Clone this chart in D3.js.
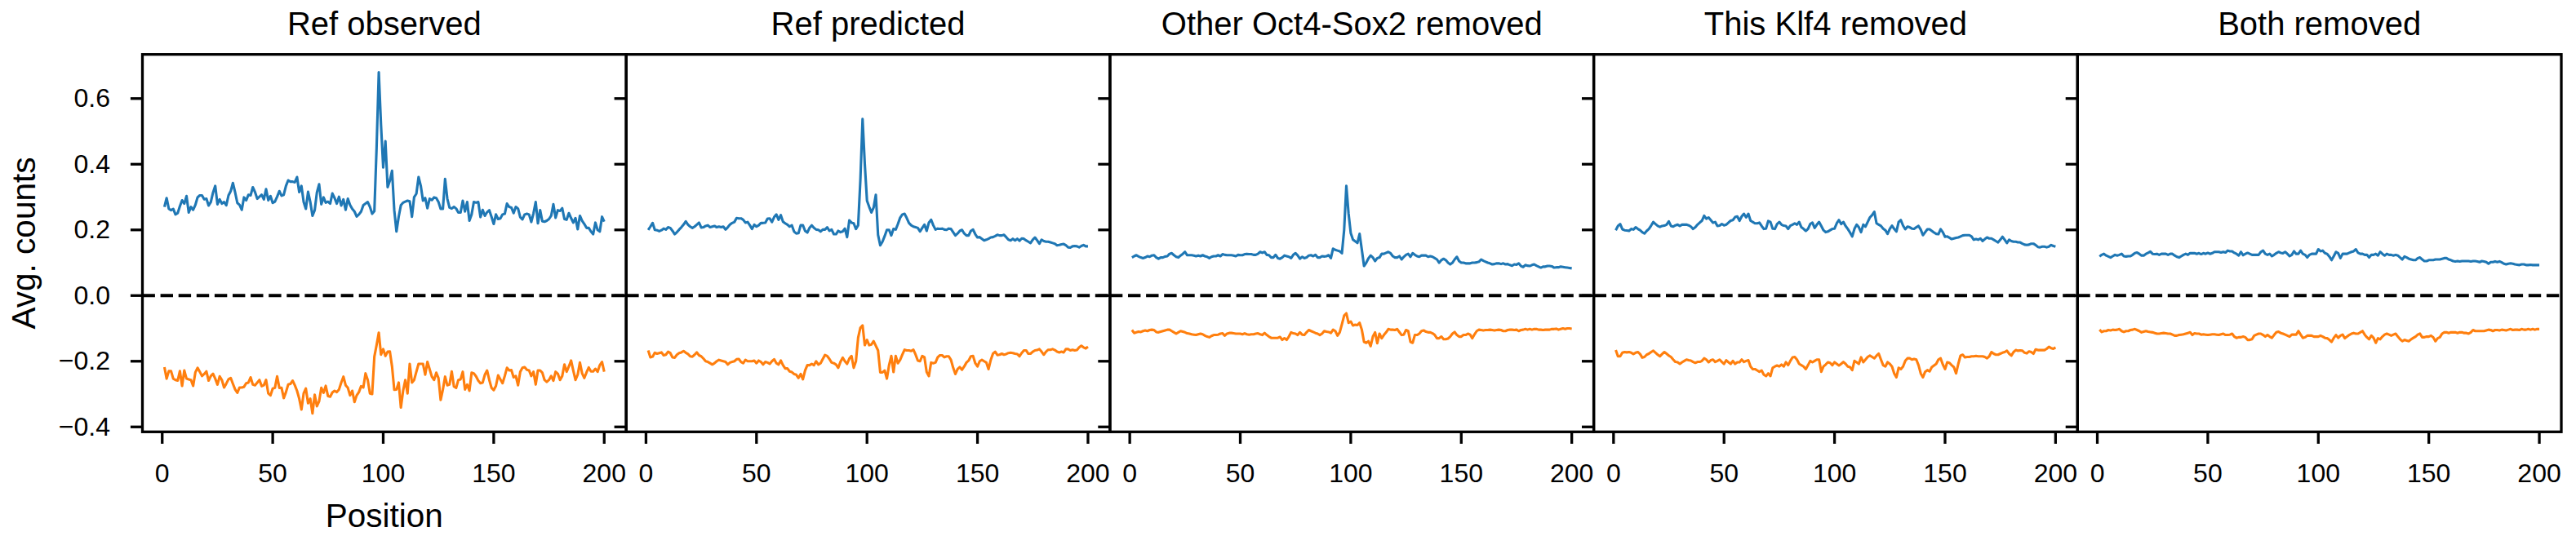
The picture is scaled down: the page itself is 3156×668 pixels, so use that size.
<!DOCTYPE html>
<html><head><meta charset="utf-8">
<script src="https://cdn.jsdelivr.net/npm/d3@7"></script>
<style>
body{margin:0;background:#fff}
svg{display:block;background:#fff}
text{font-family:"Liberation Sans",Arial,Helvetica,sans-serif;fill:#000}
</style>
</head><body>
<svg id="chart" width="3156" height="668"></svg>
<script>
// ---------------- data ----------------
const panelTitles = ["Ref observed","Ref predicted","Other Oct4-Sox2 removed","This Klf4 removed","Both removed"];
const xTickValues = [0,50,100,150,200];
const yTickValues = [-0.4,-0.2,0.0,0.2,0.4,0.6];
const positions = d3.range(1,201);

const refObservedPlus = [
.270,.297,.264,.260,.264,.247,.251,.272,.290,.280,
.303,.253,.270,.261,.276,.299,.305,.305,.293,.295,
.274,.285,.314,.334,.278,.293,.280,.285,.275,.305,
.318,.343,.314,.282,.276,.261,.299,.290,.307,.305,
.330,.315,.295,.301,.307,.293,.324,.290,.303,.282,
.286,.301,.318,.304,.307,.334,.351,.347,.347,.345,
.361,.315,.334,.285,.264,.316,.285,.243,.260,.314,
.339,.278,.299,.283,.286,.280,.311,.297,.280,.301,
.274,.293,.261,.295,.276,.264,.256,.241,.247,.256,
.275,.280,.285,.270,.249,.257,.450,.680,.520,.390,
.470,.330,.350,.380,.260,.195,.240,.275,.283,.286,
.289,.287,.240,.300,.310,.361,.334,.289,.297,.266,
.295,.291,.299,.297,.285,.264,.264,.355,.295,.268,
.265,.270,.265,.253,.253,.289,.256,.285,.228,.247,
.285,.283,.285,.239,.261,.243,.254,.260,.240,.218,
.247,.233,.235,.247,.249,.280,.270,.268,.251,.270,
.265,.239,.232,.247,.249,.247,.224,.251,.285,.220,
.260,.226,.225,.228,.233,.243,.278,.237,.260,.258,
.266,.233,.231,.251,.236,.222,.236,.202,.243,.228,
.218,.206,.206,.195,.187,.222,.200,.195,.240,.225];

const refObservedMinus = [
-.218,-.253,-.230,-.230,-.253,-.257,-.259,-.230,-.275,-.228,
-.253,-.255,-.257,-.275,-.234,-.220,-.232,-.245,-.239,-.231,
-.259,-.245,-.238,-.253,-.271,-.246,-.257,-.280,-.268,-.255,
-.251,-.269,-.286,-.296,-.280,-.280,-.278,-.267,-.265,
-.249,-.271,-.273,-.265,-.257,-.276,-.273,-.257,-.298,-.304,
-.283,-.281,-.246,-.281,-.281,-.312,-.294,-.271,-.269,-.259,
-.273,-.290,-.314,-.347,-.298,-.283,-.328,-.314,-.359,-.302,
-.337,-.322,-.281,-.296,-.275,-.306,-.308,-.295,-.290,-.294,
-.286,-.265,-.247,-.273,-.281,-.304,-.290,-.324,-.304,-.294,
-.276,-.280,-.237,-.257,-.298,-.300,-.186,-.151,-.113,-.180,
-.163,-.184,-.171,-.170,-.216,-.287,-.286,-.265,-.341,-.290,
-.257,-.298,-.208,-.265,-.257,-.232,-.208,-.208,-.208,-.241,
-.202,-.224,-.247,-.257,-.235,-.251,-.318,-.286,-.247,-.273,
-.271,-.231,-.277,-.281,-.257,-.255,-.232,-.286,-.271,-.290,
-.235,-.237,-.246,-.259,-.267,-.265,-.241,-.228,-.257,
-.281,-.288,-.275,-.243,-.255,-.267,-.245,-.220,-.228,-.227,
-.249,-.245,-.273,-.232,-.220,-.218,-.226,-.228,-.245,-.232,
-.271,-.228,-.228,-.235,-.257,-.263,-.257,-.245,-.259,-.232,
-.238,-.257,-.245,-.210,-.232,-.216,-.198,-.228,-.257,-.241,
-.204,-.237,-.251,-.234,-.219,-.231,-.231,-.223,-.232,-.212,
-.202,-.232];

const refPredictedPlus = [
.200,.210,.221,.200,.199,.196,.199,.204,.201,.208,
.206,.197,.187,.193,.201,.208,.216,.226,.216,.210,
.206,.210,.216,.222,.207,.208,.212,.214,.208,.210,
.212,.208,.210,.208,.210,.201,.208,.216,.221,
.224,.236,.235,.235,.231,.222,.224,.214,.203,.216,
.210,.214,.221,.221,.222,.234,.235,.224,.239,.247,
.231,.245,.225,.220,.216,.210,.214,.195,.189,.190,
.214,.214,.197,.192,.206,.214,.206,.201,.200,.195,
.201,.201,.208,.197,.201,.187,.187,.197,.193,.195,
.204,.178,.229,.222,.220,.203,.214,.351,.538,.401,
.289,.270,.253,.268,.307,.185,.153,.164,.181,.200,
.200,.183,.203,.201,.218,.237,.247,.249,.236,.221,
.214,.210,.208,.206,.195,.206,.216,.197,.222,.231,
.214,.201,.204,.203,.204,.201,.200,.204,.203,.193,
.183,.189,.197,.200,.189,.183,.183,.197,.201,.187,
.177,.178,.173,.168,.170,.173,.177,.178,.181,.185,
.183,.183,.185,.178,.170,.168,.173,.168,.173,.167,
.174,.173,.168,.164,.160,.170,.177,.168,.158,
.170,.166,.164,.164,.162,.160,.158,.153,.154,.156,
.157,.153,.147,.146,.150,.151,.150,.147,.151,.154,
.150,.150];

const refPredictedMinus = [
-.167,-.188,-.186,-.174,-.177,-.175,-.173,-.182,-.180,-.171,
-.175,-.188,-.189,-.180,-.175,-.173,-.169,-.174,-.178,-.185,
-.186,-.180,-.173,-.182,-.185,-.192,-.200,-.202,-.206,-.210,
-.206,-.200,-.196,-.198,-.200,-.202,-.210,-.204,-.202,-.200,
-.194,-.193,-.202,-.206,-.196,-.200,-.200,-.200,-.198,
-.206,-.198,-.202,-.210,-.202,-.204,-.208,-.200,-.194,-.206,
-.210,-.198,-.212,-.222,-.222,-.231,-.233,-.239,-.241,-.251,
-.239,-.255,-.228,-.212,-.212,-.208,-.212,-.200,-.210,-.206,
-.193,-.181,-.184,-.193,-.204,-.206,-.210,-.220,-.202,-.189,
-.200,-.208,-.192,-.184,-.220,-.200,-.128,-.098,-.091,-.151,
-.135,-.151,-.149,-.139,-.153,-.167,-.234,-.234,-.228,-.253,
-.212,-.184,-.233,-.184,-.206,-.196,-.180,-.165,-.167,-.167,
-.169,-.165,-.180,-.198,-.200,-.184,-.188,-.233,-.245,-.204,
-.206,-.204,-.188,-.182,-.182,-.188,-.185,-.185,-.196,-.220,
-.239,-.224,-.218,-.226,-.216,-.204,-.198,-.185,-.184,-.206,
-.216,-.200,-.196,-.200,-.204,-.224,-.196,-.177,-.171,-.181,
-.180,-.177,-.180,-.178,-.175,-.174,-.175,-.177,-.178,
-.185,-.175,-.167,-.167,-.177,-.177,-.171,-.167,-.166,-.163,
-.171,-.180,-.171,-.165,-.165,-.163,-.166,-.171,-.173,-.171,
-.173,-.163,-.163,-.167,-.165,-.167,-.166,-.158,-.153,-.158,
-.161,-.156];

const otherRemovedPlus = [
.116,.120,.123,.119,.116,.114,.116,.120,.118,.122,
.123,.116,.112,.116,.116,.119,.120,.127,.129,.123,
.118,.116,.122,.127,.133,.123,.123,.123,.122,.120,
.122,.120,.123,.120,.118,.114,.118,.120,.120,
.123,.120,.126,.124,.123,.123,.123,.122,.120,.124,
.123,.123,.126,.127,.126,.126,.124,.124,.127,.133,
.130,.133,.124,.123,.116,.116,.124,.114,.112,.116,
.122,.120,.118,.114,.124,.129,.122,.112,.118,.114,
.116,.122,.123,.120,.124,.116,.116,.120,.119,.120,
.123,.114,.143,.139,.137,.135,.129,.200,.334,.250,
.190,.170,.165,.160,.188,.140,.090,.100,.113,.122,
.116,.105,.114,.116,.127,.127,.130,.133,.129,.120,
.116,.116,.120,.110,.118,.124,.127,.118,.129,.124,
.120,.118,.122,.122,.122,.118,.120,.118,.114,.110,
.100,.108,.112,.108,.100,.095,.100,.110,.118,.105,
.100,.100,.098,.098,.098,.100,.100,.101,.103,.110,
.106,.103,.100,.098,.095,.096,.098,.098,.096,
.098,.095,.096,.093,.091,.095,.094,.098,.090,.087,
.093,.091,.090,.093,.095,.091,.088,.085,.088,.088,
.090,.090,.089,.085,.086,.086,.088,.087,.086,.085,
.084,.083];

const otherRemovedMinus = [
-.105,-.114,-.112,-.110,-.111,-.108,-.106,-.108,-.105,-.104,
-.105,-.111,-.112,-.110,-.108,-.106,-.104,-.104,-.108,-.112,
-.116,-.112,-.108,-.110,-.112,-.115,-.116,-.118,-.119,-.120,
-.118,-.116,-.118,-.122,-.125,-.127,-.123,-.120,-.120,
-.119,-.116,-.115,-.122,-.116,-.114,-.114,-.115,-.116,-.116,
-.116,-.118,-.115,-.118,-.119,-.118,-.118,-.116,-.115,-.118,
-.120,-.114,-.120,-.125,-.129,-.129,-.129,-.129,-.126,-.135,
-.130,-.135,-.125,-.112,-.115,-.116,-.120,-.112,-.119,-.120,
-.112,-.105,-.108,-.111,-.114,-.116,-.120,-.116,-.108,-.110,
-.111,-.114,-.104,-.108,-.122,-.112,-.087,-.061,-.054,-.083,
-.079,-.091,-.089,-.090,-.083,-.104,-.141,-.144,-.139,-.154,
-.125,-.112,-.145,-.116,-.130,-.120,-.112,-.102,-.104,-.104,
-.105,-.102,-.111,-.120,-.119,-.105,-.108,-.141,-.144,-.120,
-.120,-.116,-.108,-.106,-.110,-.112,-.112,-.115,-.120,-.130,
-.130,-.125,-.133,-.133,-.131,-.125,-.116,-.111,-.120,-.125,
-.125,-.120,-.120,-.116,-.119,-.130,-.118,-.108,-.104,-.105,
-.106,-.105,-.105,-.104,-.105,-.106,-.105,-.104,-.105,-.108,
-.108,-.105,-.104,-.104,-.105,-.104,-.108,-.105,-.104,-.102,
-.104,-.102,-.104,-.102,-.102,-.104,-.104,-.105,-.104,-.104,
-.104,-.102,-.102,-.101,-.104,-.102,-.100,-.102,-.100,-.100,
-.101];

const klf4RemovedPlus = [
.199,.212,.218,.202,.199,.198,.197,.203,.201,.208,
.203,.199,.193,.189,.197,.203,.213,.224,.218,.212,
.209,.212,.213,.216,.226,.212,.210,.214,.216,.212,
.216,.216,.216,.214,.210,.203,.208,.216,.222,
.228,.243,.234,.238,.230,.222,.224,.212,.213,.218,
.214,.216,.222,.228,.230,.239,.241,.228,.241,.249,
.238,.249,.228,.224,.220,.220,.222,.212,.203,.204,
.227,.224,.204,.203,.218,.224,.216,.213,.212,.203,
.213,.216,.220,.216,.224,.208,.203,.197,.203,.218,
.222,.206,.216,.224,.212,.199,.193,.195,.199,.203,
.204,.220,.230,.218,.224,.212,.203,.192,.180,.203,
.216,.208,.193,.216,.210,.224,.238,.245,.255,.220,
.216,.212,.204,.199,.188,.203,.213,.203,.195,.224,
.230,.213,.202,.210,.208,.204,.203,.208,.212,.201,
.184,.193,.202,.202,.197,.192,.188,.187,.202,.193,
.179,.180,.176,.172,.174,.176,.177,.180,.183,.184,
.184,.184,.180,.170,.172,.170,.174,.166,.172,
.177,.174,.174,.170,.166,.162,.170,.179,.170,.160,
.170,.166,.164,.164,.162,.162,.158,.155,.154,.155,
.158,.158,.154,.148,.147,.149,.149,.147,.149,.154,
.151,.149];

const klf4RemovedMinus = [
-.166,-.185,-.185,-.174,-.172,-.173,-.172,-.174,-.178,-.174,
-.172,-.178,-.189,-.187,-.180,-.177,-.172,-.168,-.174,-.180,
-.185,-.178,-.172,-.177,-.183,-.187,-.195,-.202,-.203,-.208,
-.203,-.199,-.195,-.197,-.198,-.202,-.205,-.202,-.202,-.199,
-.191,-.195,-.203,-.197,-.195,-.202,-.199,-.195,-.202,
-.208,-.197,-.203,-.208,-.199,-.208,-.203,-.203,-.195,-.202,
-.199,-.197,-.216,-.224,-.224,-.228,-.232,-.228,-.241,-.245,
-.237,-.245,-.220,-.216,-.213,-.216,-.210,-.216,-.203,-.212,
-.199,-.188,-.187,-.195,-.208,-.212,-.216,-.224,-.212,-.199,
-.203,-.199,-.195,-.195,-.232,-.216,-.210,-.203,-.205,-.212,
-.203,-.208,-.213,-.208,-.202,-.208,-.216,-.218,-.227,-.199,
-.203,-.208,-.188,-.203,-.195,-.187,-.183,-.187,-.191,-.183,
-.177,-.195,-.212,-.216,-.203,-.208,-.216,-.237,-.249,-.220,
-.224,-.216,-.199,-.191,-.191,-.195,-.193,-.195,-.212,-.237,
-.249,-.232,-.227,-.231,-.218,-.213,-.208,-.195,-.191,-.210,
-.224,-.203,-.205,-.212,-.218,-.237,-.208,-.183,-.180,-.188,
-.187,-.187,-.185,-.185,-.184,-.185,-.185,-.185,-.187,
-.191,-.185,-.172,-.177,-.180,-.180,-.177,-.174,-.172,-.168,
-.177,-.183,-.172,-.166,-.168,-.167,-.168,-.174,-.176,-.170,
-.172,-.177,-.164,-.166,-.166,-.166,-.166,-.162,-.156,-.160,
-.162,-.158];

const bothRemovedPlus = [
.119,.124,.127,.122,.119,.116,.120,.124,.122,.124,
.127,.120,.119,.120,.120,.124,.129,.131,.127,.122,
.122,.127,.130,.134,.127,.126,.127,.124,.127,.127,
.127,
.124,.127,.127,.122,.118,.116,.120,.124,.127,.124,
.129,.129,.129,.127,.129,.126,.129,.127,.130,.127,
.129,.133,.133,.133,.131,.133,.131,.137,.135,.135,
.130,.127,.122,.133,.123,.127,.130,.127,.124,.124,
.124,
.124,.133,.137,.127,.124,.127,.120,.124,.129,.133,
.130,.129,.133,.127,.120,.124,.135,.127,.127,.137,
.127,.124,.116,.124,.127,.127,.127,.141,.135,.137,
.129,.127,.119,.108,.120,.133,.129,.114,.127,.127,
.127,
.130,.133,.135,.141,.130,.127,.127,.124,.124,.116,
.124,.124,.127,.122,.133,.127,.122,.127,.124,.124,
.122,.124,.122,.116,.110,.119,.116,.112,.110,.108,
.108,.114,.116,.110,.105,.105,.108,.108,.108,.110,
.110,
.110,.112,.114,.114,.110,.108,.105,.104,.105,.104,
.105,.105,.105,.105,.104,.105,.105,.104,.102,.105,
.104,.102,.097,.102,.102,.104,.102,.104,.101,.097,
.095,.097,.098,.097,.095,.094,.093,.095,.095,.093,.093,
.094,.093,.093,.093,.093];

const bothRemovedMinus = [
-.104,-.111,-.108,-.108,-.105,-.106,-.104,-.105,-.104,-.102,
-.108,-.111,-.108,-.108,-.105,-.104,-.102,-.105,-.108,-.112,
-.110,-.108,-.110,-.111,-.112,-.114,-.116,-.116,-.115,-.114,
-.115,
-.116,-.116,-.119,-.122,-.122,-.120,-.119,-.118,-.116,-.114,
-.112,-.120,-.115,-.116,-.116,-.119,-.118,-.119,-.120,-.119,
-.118,-.118,-.119,-.120,-.118,-.116,-.120,-.120,-.119,-.116,
-.125,-.129,-.127,-.127,-.125,-.127,-.135,-.135,-.133,-.122,
-.119,
-.116,-.116,-.120,-.125,-.120,-.125,-.129,-.120,-.112,-.110,
-.114,-.116,-.119,-.122,-.125,-.119,-.119,-.119,-.108,-.119,
-.129,-.127,-.122,-.122,-.122,-.125,-.125,-.125,-.122,-.125,
-.129,-.130,-.135,-.141,-.129,-.120,-.129,-.122,-.119,-.130,
-.125,
-.120,-.116,-.114,-.116,-.116,-.112,-.108,-.119,-.127,-.133,
-.122,-.129,-.144,-.130,-.133,-.125,-.119,-.116,-.119,-.122,
-.119,-.116,-.125,-.133,-.139,-.135,-.137,-.139,-.133,-.129,
-.125,-.119,-.116,-.127,-.127,-.125,-.125,-.122,-.127,-.139,
-.130,
-.127,-.116,-.112,-.112,-.114,-.112,-.112,-.112,-.114,-.112,
-.112,-.114,-.114,-.116,-.112,-.105,-.108,-.108,-.108,-.108,
-.108,-.106,-.104,-.105,-.108,-.105,-.105,-.106,-.104,-.105,
-.106,-.104,-.102,-.105,-.104,-.104,-.105,-.102,-.104,-.104,-.102,
-.104,-.102,-.104,-.102,-.102];

const plusSeries = [refObservedPlus, refPredictedPlus, otherRemovedPlus, klf4RemovedPlus, bothRemovedPlus];
const minusSeries = [refObservedMinus, refPredictedMinus, otherRemovedMinus, klf4RemovedMinus, bothRemovedMinus];

// ---------------- layout ----------------
const FONT = '"Liberation Sans", Arial, Helvetica, sans-serif';
const panelLeft0 = 174.5, panelW = 592.7, plotTop = 66.7, plotBottom = 529.3;
const lw = 3.3;        // spine/tick width
const tickLen = 14.6;

const svg = d3.select("#chart");
svg.append("rect").attr("width",3156).attr("height",668).attr("fill","#fff");

const x = d3.scaleLinear().domain([-8.95, 209.95]).range([0, panelW]);
const y = d3.scaleLinear().domain([-0.415, 0.7344]).range([plotBottom, plotTop]);

const line = d3.line()
  .x((d,i) => x(positions[i]))
  .y(d => y(d));

panelTitles.forEach((title, p) => {
  const g = svg.append("g").attr("transform", `translate(${panelLeft0 + p*panelW},0)`);

  // data lines
  g.append("path").datum(plusSeries[p])
    .attr("d", line).attr("fill","none")
    .attr("stroke","#1f77b4").attr("stroke-width",3.1)
    .attr("stroke-linejoin","round");
  g.append("path").datum(minusSeries[p])
    .attr("d", line).attr("fill","none")
    .attr("stroke","#ff7f0e").attr("stroke-width",3.1)
    .attr("stroke-linejoin","round");

  // zero dashed line
  g.append("line")
    .attr("x1",0).attr("x2",panelW)
    .attr("y1",y(0)).attr("y2",y(0))
    .attr("stroke","#000").attr("stroke-width",4.17)
    .attr("stroke-dasharray","15.4,6.7");

  // spines
  g.append("rect")
    .attr("x",0).attr("y",plotTop)
    .attr("width",panelW).attr("height",plotBottom-plotTop)
    .attr("fill","none").attr("stroke","#000").attr("stroke-width",lw);

  // y axis
  const yAxis = d3.axisLeft(y).tickValues(yTickValues)
    .tickSize(tickLen).tickPadding(24.9).offset(0)
    .tickFormat(p === 0 ? d3.format(".1f") : () => "");
  const ya = g.append("g").call(yAxis);
  ya.select(".domain").remove();
  ya.selectAll(".tick line").attr("stroke","#000").attr("stroke-width",lw);
  ya.selectAll(".tick text").attr("font-size",32).attr("font-family",FONT).attr("fill","#000");

  // x axis
  const xAxis = d3.axisBottom(x).tickValues(xTickValues)
    .tickSize(tickLen).tickPadding(24.4).offset(0)
    .tickFormat(d3.format("d"));
  const xa = g.append("g").attr("transform",`translate(0,${plotBottom})`).call(xAxis);
  xa.select(".domain").remove();
  xa.selectAll(".tick line").attr("stroke","#000").attr("stroke-width",lw);
  xa.selectAll(".tick text").attr("font-size",32).attr("font-family",FONT).attr("fill","#000");

  // title
  g.append("text")
    .attr("x",panelW/2).attr("y",42.7)
    .attr("text-anchor","middle")
    .attr("font-size",40).attr("font-family",FONT)
    .text(title);
});

// axis labels
svg.append("text")
  .attr("x", panelLeft0 + panelW/2).attr("y", 646)
  .attr("text-anchor","middle")
  .attr("font-size",40.5).attr("font-family",FONT)
  .text("Position");

svg.append("text")
  .attr("transform", `translate(43,${(plotTop+plotBottom)/2}) rotate(-90)`)
  .attr("text-anchor","middle")
  .attr("font-size",40.5).attr("font-family",FONT)
  .text("Avg. counts");
</script>
</body></html>
